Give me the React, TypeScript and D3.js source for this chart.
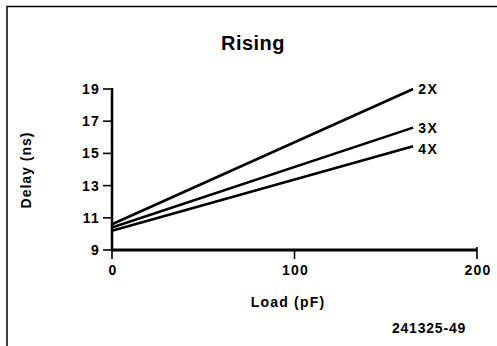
import React, { useRef, useEffect } from "react";
import * as d3 from "d3";

const series = ["2X", "3X", "4X"];
const loads = [0, 165];
const delay2X = [10.6, 19.0];
const delay3X = [10.4, 16.6];
const delay4X = [10.2, 15.45];
const yTicks = [9, 11, 13, 15, 17, 19];
const xTicks = [0, 100, 200];

const App: React.FC = () => {
  const svgRef = useRef<SVGSVGElement>(null);

  useEffect(() => {
    if (!svgRef.current) return;
    const width = 497;
    const height = 346;
    const svg = d3.select(svgRef.current);
    svg.selectAll("*").remove();

    const font = "'Liberation Sans', Arial, sans-serif";
    const fs = 14;

    // frame
    svg
      .append("path")
      .attr("d", `M7,${height} V6.5 H${width}`)
      .attr("fill", "none")
      .attr("stroke", "#000")
      .attr("stroke-width", 1.5);

    const x = d3.scaleLinear().domain([0, 200]).range([112, 477]);
    const y = d3.scaleLinear().domain([9, 19]).range([250, 89]);

    // y axis
    const yAxis = svg.append("g").attr("transform", "translate(112,0)");
    yAxis
      .append("line")
      .attr("y1", y(19) - 1)
      .attr("y2", y(9) + 1)
      .attr("stroke", "#000")
      .attr("stroke-width", 2.5);
    yTicks.forEach((t) => {
      yAxis
        .append("line")
        .attr("x1", -9)
        .attr("x2", 0)
        .attr("y1", y(t))
        .attr("y2", y(t))
        .attr("stroke", "#000")
        .attr("stroke-width", 1.6);
      yAxis
        .append("text")
        .attr("x", -12)
        .attr("y", y(t))
        .attr("dy", "0.36em")
        .attr("text-anchor", "end")
        .attr("font-family", font)
        .attr("font-weight", "bold")
        .attr("font-size", fs)
        .attr("letter-spacing", 1.2)
        .text(t);
    });

    // x axis
    const xAxis = svg.append("g").attr("transform", `translate(0,${y(9)})`);
    xAxis
      .append("line")
      .attr("x1", x(0) - 1)
      .attr("x2", x(200))
      .attr("stroke", "#000")
      .attr("stroke-width", 3);
    xTicks.forEach((t) => {
      xAxis
        .append("line")
        .attr("x1", x(t))
        .attr("x2", x(t))
        .attr("y1", t === 200 ? -3 : 0)
        .attr("y2", 9)
        .attr("stroke", "#000")
        .attr("stroke-width", 1.6);
      xAxis
        .append("text")
        .attr("x", x(t) + 1)
        .attr("y", 25)
        .attr("text-anchor", "middle")
        .attr("font-family", font)
        .attr("font-weight", "bold")
        .attr("font-size", fs)
        .attr("letter-spacing", 1.2)
        .text(t);
    });

    // lines
    const values = [delay2X, delay3X, delay4X];
    const line = d3
      .line<number>()
      .x((_, i) => x(loads[i]))
      .y((d) => y(d));
    values.forEach((v, i) => {
      svg
        .append("path")
        .attr("d", line(v) ?? "")
        .attr("fill", "none")
        .attr("stroke", "#000")
        .attr("stroke-width", 2.6);
      svg
        .append("text")
        .attr("x", x(loads[1]) + 5)
        .attr("y", y(v[1]) + (i === 2 ? 3 : 0))
        .attr("dy", "0.36em")
        .attr("font-family", font)
        .attr("font-weight", "bold")
        .attr("font-size", fs)
        .attr("letter-spacing", 1.5)
        .text(series[i]);
    });

    // titles
    svg
      .append("text")
      .attr("x", 253)
      .attr("y", 50)
      .attr("text-anchor", "middle")
      .attr("font-family", font)
      .attr("font-weight", "bold")
      .attr("font-size", 20)
      .attr("letter-spacing", 0.5)
      .text("Rising");

    svg
      .append("text")
      .attr("transform", "translate(31,170) rotate(-90)")
      .attr("text-anchor", "middle")
      .attr("font-family", font)
      .attr("font-weight", "bold")
      .attr("font-size", fs)
      .attr("letter-spacing", 1)
      .text("Delay (ns)");

    svg
      .append("text")
      .attr("x", 288)
      .attr("y", 307)
      .attr("text-anchor", "middle")
      .attr("font-family", font)
      .attr("font-weight", "bold")
      .attr("font-size", fs)
      .attr("letter-spacing", 1.2)
      .text("Load (pF)");

    svg
      .append("text")
      .attr("x", 429)
      .attr("y", 333)
      .attr("text-anchor", "middle")
      .attr("font-family", font)
      .attr("font-weight", "bold")
      .attr("font-size", fs)
      .attr("letter-spacing", 0.8)
      .text("241325-49");
  }, []);

  return (
    <svg
      ref={svgRef}
      width={497}
      height={346}
      style={{ position: "absolute", left: 0, top: 0, background: "#fff" }}
    ></svg>
  );
};

export default App;
